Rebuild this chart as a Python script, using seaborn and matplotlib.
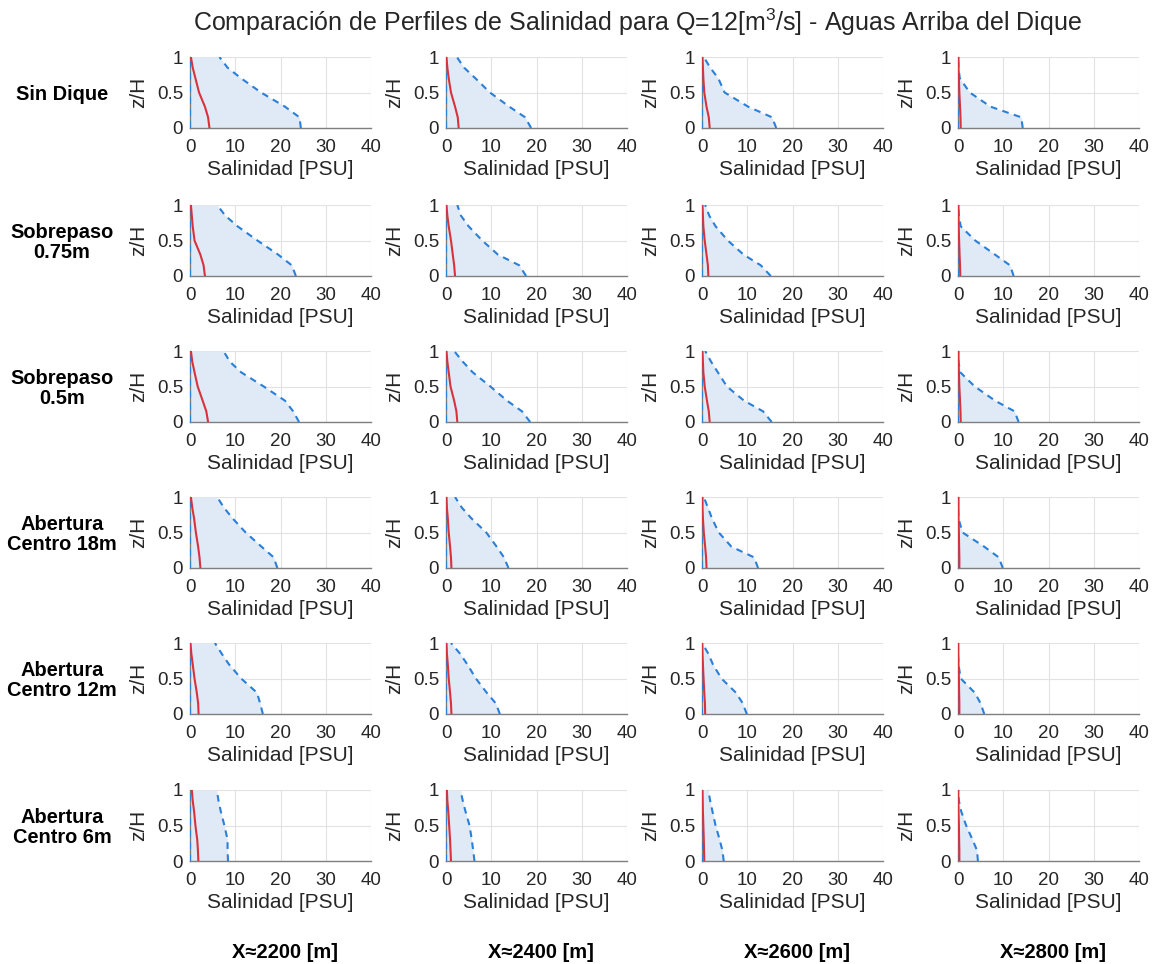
import matplotlib
matplotlib.use("Agg")
import matplotlib.pyplot as plt
import seaborn as sns
import pandas as pd

sns.set_theme(style="white")
plt.rcParams["font.family"] = ["Liberation Sans", "DejaVu Sans"]
plt.rcParams["mathtext.fontset"] = "custom"
plt.rcParams["mathtext.rm"] = "Liberation Sans"
plt.rcParams["mathtext.it"] = "Liberation Sans:italic"

# Relative depth levels (z/H)
Z = [0.0, 0.15, 0.3, 0.5, 0.7, 0.85, 1.0]

SCENARIOS = ["Sin Dique", "Sobrepaso\n0.75m", "Sobrepaso\n0.5m",
             "Abertura\nCentro 18m", "Abertura\nCentro 12m", "Abertura\nCentro 6m"]
POSITIONS = ["X≈2200 [m]", "X≈2400 [m]", "X≈2600 [m]", "X≈2800 [m]"]

# Maximum salinity profiles [PSU], one list per position, per scenario
MAX_SIN_DIQUE = [
    [24.5, 24.2, 21.0, 15.7, 11.3, 8.3, 6.5],
    [18.8, 17.5, 14.0, 9.7, 6.5, 4.0, 2.4],
    [16.4, 15.5, 10.2, 5.0, 3.6, 1.8, 0.4],
    [14.3, 14.0, 7.2, 2.6, 0.4, 0.1, 0.0],
]
MAX_SOB_075 = [
    [23.4, 22.5, 19.5, 14.9, 10.5, 7.8, 6.0],
    [17.7, 16.2, 11.5, 8.0, 5.0, 3.3, 2.5],
    [15.2, 13.0, 9.2, 5.7, 3.0, 1.6, 0.7],
    [12.3, 11.5, 8.2, 3.8, 0.6, 0.2, 0.0],
]
MAX_SOB_05 = [
    [24.1, 22.8, 21.0, 16.3, 11.3, 8.8, 7.4],
    [18.6, 16.8, 13.5, 9.8, 5.9, 3.7, 1.8],
    [15.4, 13.5, 9.3, 5.5, 3.5, 2.0, 0.7],
    [13.4, 12.5, 8.2, 3.7, 0.5, 0.1, 0.0],
]
MAX_AB_18 = [
    [19.3, 18.5, 15.8, 12.3, 9.4, 7.5, 6.0],
    [13.8, 12.8, 11.2, 8.9, 5.6, 3.5, 2.0],
    [12.4, 11.5, 6.5, 3.7, 2.2, 1.3, 0.4],
    [9.9, 9.0, 5.8, 1.0, 0.1, 0.0, 0.0],
]
MAX_AB_12 = [
    [16.1, 15.5, 14.8, 11.3, 8.6, 7.0, 5.5],
    [11.9, 11.0, 9.0, 6.6, 4.7, 3.1, 1.1],
    [9.9, 9.0, 7.5, 4.3, 2.4, 1.4, 0.0],
    [5.8, 5.0, 3.7, 0.6, 0.1, 0.0, 0.0],
]
MAX_AB_6 = [
    [8.4, 8.3, 8.3, 7.6, 6.8, 6.3, 5.9],
    [6.3, 6.0, 5.7, 5.2, 4.3, 3.7, 3.2],
    [4.8, 4.5, 3.9, 3.0, 2.3, 1.8, 1.4],
    [4.4, 4.2, 3.2, 1.8, 0.7, 0.2, 0.0],
]

# Mean salinity profiles [PSU]
MEAN_SIN_DIQUE = [
    [4.3, 4.0, 3.3, 2.0, 1.2, 0.6, 0.2],
    [2.8, 2.6, 2.0, 1.1, 0.6, 0.3, 0.1],
    [1.7, 1.5, 1.0, 0.5, 0.3, 0.2, 0.1],
    [0.6, 0.55, 0.45, 0.3, 0.2, 0.1, 0.1],
]
MEAN_SOB_075 = [
    [3.3, 3.0, 2.3, 1.0, 0.6, 0.4, 0.2],
    [2.0, 1.8, 1.5, 1.1, 0.6, 0.3, 0.1],
    [1.4, 1.3, 1.0, 0.6, 0.3, 0.2, 0.1],
    [0.5, 0.45, 0.35, 0.25, 0.15, 0.1, 0.1],
]
MEAN_SOB_05 = [
    [4.0, 3.6, 2.8, 1.7, 1.0, 0.5, 0.2],
    [2.5, 2.3, 1.8, 1.0, 0.6, 0.3, 0.1],
    [1.7, 1.5, 1.1, 0.6, 0.3, 0.2, 0.1],
    [0.6, 0.55, 0.45, 0.3, 0.2, 0.1, 0.1],
]
MEAN_AB_18 = [
    [2.3, 2.1, 1.8, 1.3, 0.9, 0.5, 0.2],
    [1.2, 1.1, 0.9, 0.6, 0.4, 0.2, 0.1],
    [1.0, 0.9, 0.7, 0.4, 0.2, 0.1, 0.1],
    [0.3, 0.3, 0.25, 0.2, 0.1, 0.1, 0.1],
]
MEAN_AB_12 = [
    [1.9, 1.8, 1.5, 1.0, 0.6, 0.3, 0.1],
    [1.2, 1.1, 0.9, 0.6, 0.4, 0.2, 0.1],
    [0.7, 0.65, 0.5, 0.35, 0.2, 0.1, 0.05],
    [0.3, 0.3, 0.25, 0.2, 0.1, 0.05, 0.05],
]
MEAN_AB_6 = [
    [1.85, 1.75, 1.6, 1.2, 0.9, 0.6, 0.4],
    [1.1, 1.0, 0.9, 0.7, 0.5, 0.3, 0.2],
    [0.5, 0.45, 0.4, 0.3, 0.2, 0.15, 0.1],
    [0.3, 0.3, 0.25, 0.2, 0.1, 0.05, 0.05],
]

# Minimum salinity profile (fresh water throughout the column)
MIN_PROFILE = [0.05, 0.05, 0.05, 0.05, 0.05, 0.05, 0.05]

MAX_ALL = [MAX_SIN_DIQUE, MAX_SOB_075, MAX_SOB_05, MAX_AB_18, MAX_AB_12, MAX_AB_6]
MEAN_ALL = [MEAN_SIN_DIQUE, MEAN_SOB_075, MEAN_SOB_05, MEAN_AB_18, MEAN_AB_12, MEAN_AB_6]

BLUE = "#2a7fd8"
FILL = "#dfeaf6"
RED = "#d8333d"
TXT = "#262626"
DASH = (0, (3.2, 2.6))

W, H = 1155, 964
fig = plt.figure(figsize=(W / 100, H / 100), dpi=100)

col_left = [190, 446, 702, 958]
row_top = [57, 205, 351, 497, 643, 790]
ax_w, ax_h = 181, 71

for r in range(6):
    for c in range(4):
        ax = fig.add_axes([col_left[c] / W, 1 - (row_top[r] + ax_h) / H,
                           ax_w / W, ax_h / H])
        df = pd.DataFrame({"z": Z, "smax": MAX_ALL[r][c],
                           "smean": MEAN_ALL[r][c], "smin": MIN_PROFILE})
        ax.fill_betweenx(df["z"], df["smin"], df["smax"], color=FILL, lw=0, zorder=1)
        sns.lineplot(data=df, x="smax", y="z", orient="y", sort=False, ax=ax,
                     color=BLUE, lw=1.5, linestyle=DASH, zorder=3)
        sns.lineplot(data=df, x="smin", y="z", orient="y", sort=False, ax=ax,
                     color=BLUE, lw=1.5, linestyle=DASH, zorder=3)
        sns.lineplot(data=df, x="smean", y="z", orient="y", sort=False, ax=ax,
                     color=RED, lw=1.5, zorder=4)
        ax.set_xlim(0, 40)
        ax.set_ylim(0, 1)
        ax.set_xticks([0, 10, 20, 30, 40])
        ax.set_yticks([0, 0.5, 1])
        ax.set_yticklabels(["0", "0.5", "1"])
        ax.grid(True, color="#e2e2e2", lw=0.8, zorder=0)
        ax.set_axisbelow(True)
        for s in ["top", "right"]:
            ax.spines[s].set_visible(False)
        for s in ["bottom", "left"]:
            ax.spines[s].set_color("#7f7f7f")
            ax.spines[s].set_linewidth(1.0)
        ax.tick_params(axis="both", length=0, labelsize=13.5, colors=TXT)
        ax.tick_params(axis="x", pad=8)
        ax.tick_params(axis="y", pad=5)
        ax.set_xlabel("Salinidad [PSU]", fontsize=15, color=TXT, labelpad=3)
        ax.set_ylabel("z/H", fontsize=15, color=TXT, labelpad=6)

        if c == 0:
            fig.text(62 / W, 1 - (row_top[r] + ax_h / 2 + 2) / H, SCENARIOS[r],
                     ha="center", va="center", fontsize=14.4, fontweight="bold",
                     color="black", linespacing=1.1)
        if r == 5:
            fig.text((col_left[c] + ax_w / 2 + 4) / W, 1 - 953 / H, POSITIONS[c],
                     ha="center", va="center", fontsize=14.5, fontweight="bold",
                     color="black")

fig.text(638 / W, 1 - 22 / H,
         "Comparación de Perfiles de Salinidad para Q=12[m$^{3}$/s] - Aguas Arriba del Dique",
         ha="center", va="center", fontsize=18, color=TXT)

fig.savefig("out.png", dpi=100)
